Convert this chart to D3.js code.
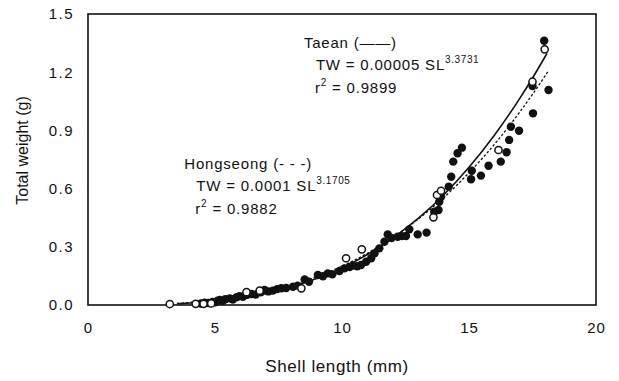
<!DOCTYPE html>
<html>
<head>
<meta charset="utf-8">
<script src="https://cdn.jsdelivr.net/npm/d3@7"></script>
<style>
  body { margin: 0; background: #fff; }
  svg text { font-family: "Liberation Sans", Arial, Helvetica, sans-serif; fill: #111; }
</style>
</head>
<body>
<div id="chart"></div>
<script>
// Axis ticks
const xTicks = [0, 5, 10, 15, 20];
const yTicks = [0, 0.3, 0.6, 0.9, 1.2, 1.5];

// Filled circles
const filledX = [4.45, 4.6, 4.75, 4.9, 5.0, 5.1, 5.19, 5.3, 5.4, 5.58, 5.7, 5.85, 5.97, 6.1, 6.25, 6.43, 6.6, 6.8, 6.95, 7.1,
  7.28, 7.45, 7.61, 7.8, 8.07, 8.25, 8.53, 8.7, 9.05, 9.25, 9.44, 9.62, 9.9, 10.1, 10.3, 10.43, 10.6, 10.75, 10.95, 11.15,
  11.28, 11.47, 11.67, 11.8, 11.95, 12.19, 12.35, 12.52, 12.65, 12.98, 13.33, 13.63, 13.8, 13.83, 13.9, 14.2, 14.3, 14.38, 14.55, 14.72,
  15.08, 15.11, 15.47, 15.77, 16.25, 16.48, 16.58, 16.65, 16.97, 17.52, 17.5, 17.96, 18.13];
const filledY = [0.008, 0.012, 0.010, 0.016, 0.014, 0.022, 0.026, 0.020, 0.030, 0.034, 0.028, 0.040, 0.046, 0.042, 0.052, 0.057, 0.054, 0.065, 0.077, 0.070,
  0.074, 0.082, 0.086, 0.088, 0.094, 0.100, 0.132, 0.120, 0.155, 0.148, 0.163, 0.158, 0.175, 0.189, 0.196, 0.203, 0.200, 0.206, 0.223, 0.241,
  0.266, 0.292, 0.326, 0.364, 0.345, 0.352, 0.355, 0.356, 0.390, 0.364, 0.373, 0.481, 0.490, 0.532, 0.558, 0.610, 0.661, 0.739, 0.782, 0.811,
  0.648, 0.692, 0.667, 0.718, 0.739, 0.787, 0.851, 0.919, 0.898, 0.988, 1.129, 1.362, 1.108];

// Open circles
const openX = [3.22, 4.24, 4.55, 4.85, 6.24, 6.76, 8.4, 10.16, 10.78, 13.6, 13.74, 13.9, 16.16, 17.5, 17.98];
const openY = [0.005, 0.006, 0.006, 0.008, 0.066, 0.074, 0.086, 0.241, 0.287, 0.452, 0.567, 0.589, 0.799, 1.151, 1.318];

// Fitted curves
const taeanX = [3.5, 4, 5, 6, 7, 8, 9, 10, 11, 12, 13, 14, 15, 16, 17, 18, 18.07];
const taeanY = [0.006, 0.010, 0.020, 0.037, 0.060, 0.093, 0.136, 0.191, 0.260, 0.345, 0.446, 0.567, 0.710, 0.875, 1.065, 1.281, 1.297];
const hongX = [3.5, 4, 5, 6, 7, 8, 9, 10, 11, 12, 13, 14, 15, 16, 17, 18, 18.13];
const hongY = [0.008, 0.013, 0.025, 0.043, 0.068, 0.102, 0.146, 0.200, 0.267, 0.348, 0.443, 0.553, 0.682, 0.828, 0.995, 1.182, 1.208];

const W = 619, H = 381;
const margin = { top: 14, right: 23, bottom: 76, left: 88 },
  width = W - margin.left - margin.right,
  height = H - margin.top - margin.bottom;

const svg = d3.select("#chart")
  .append("svg")
  .attr("width", W)
  .attr("height", H)
  .append("g")
  .attr("transform", "translate(" + margin.left + "," + margin.top + ")");

const x = d3.scaleLinear().domain([0, 20]).range([0, width]);
const y = d3.scaleLinear().domain([0, 1.5]).range([height, 0]);

// frame
svg.append("rect")
  .attr("x", 0).attr("y", 0)
  .attr("width", width).attr("height", height)
  .attr("fill", "none")
  .attr("stroke", "#111")
  .attr("stroke-width", 1.6);

// axes (no tick marks in the original)
const xAxis = svg.append("g")
  .attr("transform", "translate(0," + height + ")")
  .call(d3.axisBottom(x).tickValues(xTicks).tickSize(0).tickPadding(17).tickFormat(d3.format("d")));
xAxis.select(".domain").remove();
xAxis.selectAll("text").style("font-size", "15px").style("letter-spacing", "1px");

const yAxis = svg.append("g")
  .call(d3.axisLeft(y).tickValues(yTicks).tickSize(0).tickPadding(14).tickFormat(d3.format(".1f")));
yAxis.select(".domain").remove();
yAxis.selectAll("text").style("font-size", "15px").style("letter-spacing", "1.5px");

// axis titles
svg.append("text")
  .attr("x", width / 2 - 5)
  .attr("y", height + 67)
  .attr("text-anchor", "middle")
  .style("font-size", "17px")
  .style("letter-spacing", "0.6px")
  .text("Shell length (mm)");

svg.append("text")
  .attr("transform", "translate(" + (-60) + "," + (height / 2 - 9) + ") rotate(-90)")
  .attr("text-anchor", "middle")
  .style("font-size", "16px")
  .text("Total weight (g)");

// curves
const line = d3.line()
  .x(d => x(d[0]))
  .y(d => y(d[1]))
  .curve(d3.curveMonotoneX);

svg.append("path")
  .datum(d3.zip(hongX, hongY))
  .attr("d", line)
  .attr("fill", "none")
  .attr("stroke", "#111")
  .attr("stroke-width", 1.3)
  .attr("stroke-dasharray", "2.5,2");

svg.append("path")
  .datum(d3.zip(taeanX, taeanY))
  .attr("d", line)
  .attr("fill", "none")
  .attr("stroke", "#111")
  .attr("stroke-width", 1.6);

// points
svg.selectAll(".filled")
  .data(d3.zip(filledX, filledY))
  .join("circle")
  .attr("class", "filled")
  .attr("cx", d => x(d[0]))
  .attr("cy", d => y(d[1]))
  .attr("r", 4.2)
  .attr("fill", "#111");

svg.selectAll(".open")
  .data(d3.zip(openX, openY))
  .join("circle")
  .attr("class", "open")
  .attr("cx", d => x(d[0]))
  .attr("cy", d => y(d[1]))
  .attr("r", 3.6)
  .attr("fill", "#fff")
  .attr("stroke", "#111")
  .attr("stroke-width", 1.5);

// equation annotations
function addEq(px, py, title, coef, expo, r2) {
  const g = svg.append("g")
    .style("font-size", "15px")
    .style("letter-spacing", "0.8px");
  g.append("text").attr("x", px).attr("y", py).text(title);
  const t = g.append("text").attr("x", px + 12).attr("y", py + 22);
  t.append("tspan").text("TW = " + coef + " SL");
  t.append("tspan").attr("dy", -7).style("font-size", "10px").style("letter-spacing", "0.6px").text(expo);
  const r = g.append("text").attr("x", px + 11).attr("y", py + 45);
  r.append("tspan").text("r");
  r.append("tspan").attr("dy", -7).style("font-size", "10px").text("2");
  r.append("tspan").attr("dy", 7).text(" = " + r2);
}

addEq(x(8.5), y(1.325), "Taean (\u2014\u2014)", "0.00005", "3.3731", "0.9899");
addEq(x(3.79), y(0.700), "Hongseong (- - -)", "0.0001", "3.1705", "0.9882");
</script>
</body>
</html>
